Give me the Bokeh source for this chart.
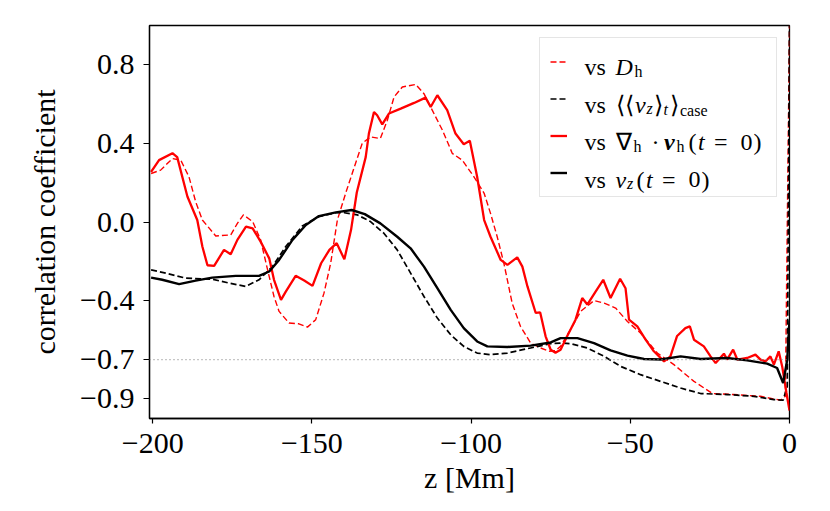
from bokeh.plotting import figure
from bokeh.models import Range1d, FixedTicker, Span, Label, Legend, LegendItem
from bokeh.embed import file_html
from bokeh.resources import INLINE

# ---------------- data ----------------
z_dh = [-200.5, -197.5, -193.8, -191.2, -188.6, -186.5, -184.4, -180.2, -175.5, -173.4,
        -171.5, -168.6, -166.1, -163.9, -161.9, -160.3, -157.2, -154.1, -151.4, -148.8,
        -146.2, -144.1, -142.0, -139.4, -136.3, -134.2, -131.6, -128.5, -126.3, -124.2,
        -121.6, -117.4, -114.8, -112.2, -109.0, -105.9, -102.8, -99.1, -95.9, -93.9,
        -91.8, -89.7, -87.1, -84.5, -81.3, -78.2, -75.5, -73.5, -71.9, -68.8,
        -65.6, -61.4, -58.2, -54.6, -50.9, -46.8, -41.5, -36.3, -30.0, -24.2,
        -17.5, -9.1, -2.8, -1.3, 0.0]
corr_dh = [0.247, 0.264, 0.323, 0.315, 0.230, 0.103, 0.010, -0.071, -0.066, -0.007,
           0.036, 0.002, -0.091, -0.244, -0.379, -0.455, -0.514, -0.518, -0.535, -0.497,
           -0.362, -0.210, 0.010, 0.146, 0.298, 0.400, 0.433, 0.425, 0.518, 0.636,
           0.687, 0.700, 0.653, 0.569, 0.467, 0.349, 0.315, 0.230, 0.146, 0.044,
           -0.075, -0.210, -0.413, -0.531, -0.616, -0.641, -0.658, -0.655, -0.633, -0.548,
           -0.455, -0.400, -0.413, -0.438, -0.506, -0.565, -0.667, -0.726, -0.811, -0.873,
           -0.878, -0.887, -0.907, -0.887, 1.0]

z_vzavg = [-200.5, -195.9, -189.6, -181.3, -176.0, -170.8, -166.6, -162.4, -158.2, -153.0,
           -147.8, -142.5, -139.8, -135.7, -131.6, -127.4, -123.2, -119.0, -114.8, -110.6,
           -106.4, -102.3, -98.1, -93.9, -88.6, -81.3, -75.0, -71.9, -68.8, -63.5,
           -58.2, -53.0, -46.8, -40.5, -34.2, -27.9, -19.6, -11.2, -4.9, -2.0,
           -0.7, 0.0]
corr_vzavg = [-0.244, -0.260, -0.286, -0.291, -0.311, -0.328, -0.294, -0.227, -0.125, -0.020,
              0.027, 0.047, 0.047, 0.036, 0.002, -0.057, -0.142, -0.260, -0.379, -0.489,
              -0.574, -0.633, -0.667, -0.675, -0.667, -0.641, -0.619, -0.616, -0.619, -0.641,
              -0.684, -0.735, -0.777, -0.811, -0.845, -0.873, -0.878, -0.887, -0.904, -0.907,
              -0.836, 1.0]

z_divvh = [-200.5, -198.0, -193.8, -192.3, -189.1, -186.0, -184.4, -182.8, -180.7, -177.6,
           -175.5, -173.4, -170.7, -168.6, -166.1, -163.4, -161.9, -159.7, -158.2, -155.1,
           -152.4, -149.8, -147.1, -144.5, -142.2, -139.8, -137.7, -135.9, -133.1, -132.1,
           -130.5, -129.5, -127.9, -125.8, -122.1, -117.9, -114.3, -112.7, -110.6, -107.5,
           -104.9, -102.3, -100.4, -98.1, -95.9, -93.9, -90.7, -88.6, -85.5, -83.9,
           -82.3, -79.7, -78.3, -76.6, -75.0, -73.5, -71.9, -69.8, -67.2, -65.1,
           -63.5, -60.9, -58.5, -56.2, -53.2, -51.5, -50.4, -47.8, -45.2, -42.6,
           -39.4, -37.4, -35.3, -32.7, -31.3, -30.0, -26.9, -24.8, -23.2, -20.6,
           -19.6, -17.7, -16.4, -13.3, -10.7, -9.1, -7.5, -6.0, -4.9, -3.4,
           -2.3, -0.95, 0.0]
corr_divvh = [0.255, 0.315, 0.350, 0.330, 0.130, 0.010, -0.125, -0.220, -0.223, -0.142,
              -0.164, -0.091, -0.024, -0.032, -0.100, -0.185, -0.294, -0.396, -0.354, -0.274,
              -0.298, -0.325, -0.210, -0.142, -0.108, -0.190, -0.040, 0.150, 0.330, 0.450,
              0.560, 0.543, 0.497, 0.552, 0.577, 0.606, 0.633, 0.585, 0.645, 0.569,
              0.450, 0.396, 0.413, 0.230, 0.010, -0.075, -0.193, -0.218, -0.180, -0.227,
              -0.328, -0.463, -0.460, -0.582, -0.650, -0.665, -0.650, -0.580, -0.497, -0.387,
              -0.420, -0.354, -0.294, -0.387, -0.289, -0.337, -0.497, -0.531, -0.599, -0.658,
              -0.709, -0.684, -0.580, -0.540, -0.531, -0.599, -0.633, -0.684, -0.718, -0.670,
              -0.700, -0.650, -0.700, -0.692, -0.675, -0.700, -0.709, -0.684, -0.726, -0.658,
              -0.735, -0.870, -0.960]

z_vz = [-200.5, -197.0, -191.7, -186.5, -181.3, -173.9, -166.6, -163.4, -160.3, -156.1,
        -151.9, -147.8, -142.5, -137.5, -133.4, -128.5, -123.2, -119.0, -114.8, -110.6,
        -106.4, -102.3, -98.1, -94.9, -88.6, -81.3, -75.0, -71.9, -66.6, -61.4,
        -56.2, -50.9, -45.7, -40.5, -34.2, -27.9, -19.6, -13.3, -7.0, -3.9,
        -2.0, -0.7, 0.0]
corr_vz = [-0.283, -0.294, -0.316, -0.298, -0.283, -0.274, -0.274, -0.252, -0.193, -0.091,
           -0.015, 0.030, 0.049, 0.061, 0.040, -0.007, -0.075, -0.134, -0.227, -0.337,
           -0.447, -0.540, -0.608, -0.633, -0.636, -0.629, -0.613, -0.591, -0.591, -0.616,
           -0.653, -0.680, -0.697, -0.700, -0.684, -0.697, -0.692, -0.704, -0.721, -0.743,
           -0.819, -0.700, -0.500]

threshold = -0.7
xticks = [-200, -150, -100, -50, 0]
xtick_labels = ["\u2212200", "\u2212150", "\u2212100", "\u221250", "0"]
yticks = [-0.9, -0.7, -0.4, 0.0, 0.4, 0.8]
ytick_labels = ["\u22120.9", "\u22120.7", "\u22120.4", "0.0", "0.4", "0.8"]

FONT = "Liberation Serif"

p = figure(width=822, height=503, output_backend="svg", toolbar_location=None,
           x_range=Range1d(-201, 0), y_range=Range1d(-1.0, 1.0),
           min_border_left=149, min_border_right=33, min_border_top=25, min_border_bottom=85)
p.grid.visible = False
p.background_fill_color = "white"
p.border_fill_color = "white"
p.outline_line_color = "black"
p.outline_line_width = 1.3

for ax in (p.xaxis[0], p.yaxis[0]):
    ax.axis_line_color = "black"
    ax.axis_line_width = 1.3
    ax.major_tick_line_color = "black"
    ax.major_tick_line_width = 1.2
    ax.major_tick_in = 0
    ax.minor_tick_line_color = None
    ax.major_label_text_font = FONT
    ax.major_label_text_font_size = "30px"
    ax.major_label_text_color = "black"
    ax.axis_label_text_font = FONT
    ax.axis_label_text_font_size = "30px"
    ax.axis_label_text_font_style = "normal"
    ax.axis_label_text_color = "black"

p.xaxis.ticker = FixedTicker(ticks=xticks)
p.xaxis.major_label_overrides = dict(zip(xticks, xtick_labels))
p.xaxis.major_tick_out = 5
p.xaxis.major_label_standoff = 10
p.xaxis.axis_label = "z [Mm]"
p.xaxis.axis_label_standoff = 5

p.yaxis.ticker = FixedTicker(ticks=yticks)
p.yaxis.major_label_overrides = dict(zip(yticks, ytick_labels))
p.yaxis.major_tick_out = 6
p.yaxis.major_label_standoff = 9
p.yaxis.axis_label = "correlation coefficient"
p.yaxis.axis_label_standoff = 16

p.add_layout(Span(location=threshold, dimension="width", line_color="#8c8c8c",
                  line_dash="1 3", line_width=1.2))

r_dh = p.line(z_dh, corr_dh, line_color="#ff0000", line_width=1.4, line_dash="6 3")
r_vzavg = p.line(z_vzavg, corr_vzavg, line_color="black", line_width=1.7, line_dash="6 3")
r_divvh = p.line(z_divvh, corr_divvh, line_color="#ff0000", line_width=2.3)
r_vz = p.line(z_vz, corr_vz, line_color="black", line_width=2.4)

legend = Legend(items=[LegendItem(label=" ", renderers=[r]) for r in (r_dh, r_vzavg, r_divvh, r_vz)],
                location="top_right", margin=12, padding=10, spacing=10,
                glyph_width=17, glyph_height=27, label_height=27, label_width=194,
                label_standoff=5, label_text_font_size="8px",
                border_line_color="#cccccc", border_line_width=1.2,
                background_fill_alpha=0.0)
p.add_layout(legend)

# legend texts (page pixel positions -> frame screen units)
FL, FB = 149, 418
M, S = "24px", "16px"
pieces = [
    # row 1: vs D_h
    ("vs", 584, 66.5, M, "normal"), ("D", 615, 66.5, M, "italic"), ("h", 634, 71, S, "normal"),
    # row 2: vs <<v_z>_t>_case
    ("vs", 584, 104, M, "normal"), ("\u27e8\u27e8", 615, 104, M, "normal"),
    ("v", 634.5, 104, M, "italic"), ("z", 646, 108, S, "italic"),
    ("\u27e9", 653.5, 104, M, "normal"), ("t", 663, 108.5, S, "italic"),
    ("\u27e9", 669.5, 104, M, "normal"), ("case", 679.5, 109.5, S, "normal"),
    # row 3: vs nabla_h . v_h(t = 0)
    ("vs", 584, 141.5, M, "normal"), ("\u2207", 615, 141.5, M, "normal"),
    ("h", 633, 146, S, "normal"), ("\u00b7", 651, 141.5, M, "normal"),
    ("v", 663.5, 141.5, M, "bold italic"), ("h", 676, 146, S, "normal"),
    ("(", 688, 141.5, M, "normal"), ("t", 697.5, 141.5, M, "italic"),
    ("=", 713.5, 141.5, M, "normal"), ("0", 740, 141.5, M, "normal"),
    (")", 753, 141.5, M, "normal"),
    # row 4: vs v_z(t = 0)
    ("vs", 584, 179, M, "normal"), ("v", 615, 179, M, "italic"),
    ("z", 626.5, 183, S, "italic"), ("(", 636, 179, M, "normal"),
    ("t", 645.5, 179, M, "italic"), ("=", 661.5, 179, M, "normal"),
    ("0", 688, 179, M, "normal"), (")", 701, 179, M, "normal"),
]
for txt, px, py, size, style in pieces:
    p.add_layout(Label(x=px - FL, y=FB - py, x_units="screen", y_units="screen",
                       text=txt, text_font=FONT, text_font_size=size,
                       text_font_style=style, text_color="black",
                       text_baseline="alphabetic", text_align="left",
                       level="overlay"))

open("out.html", "w").write(file_html(p, INLINE))
